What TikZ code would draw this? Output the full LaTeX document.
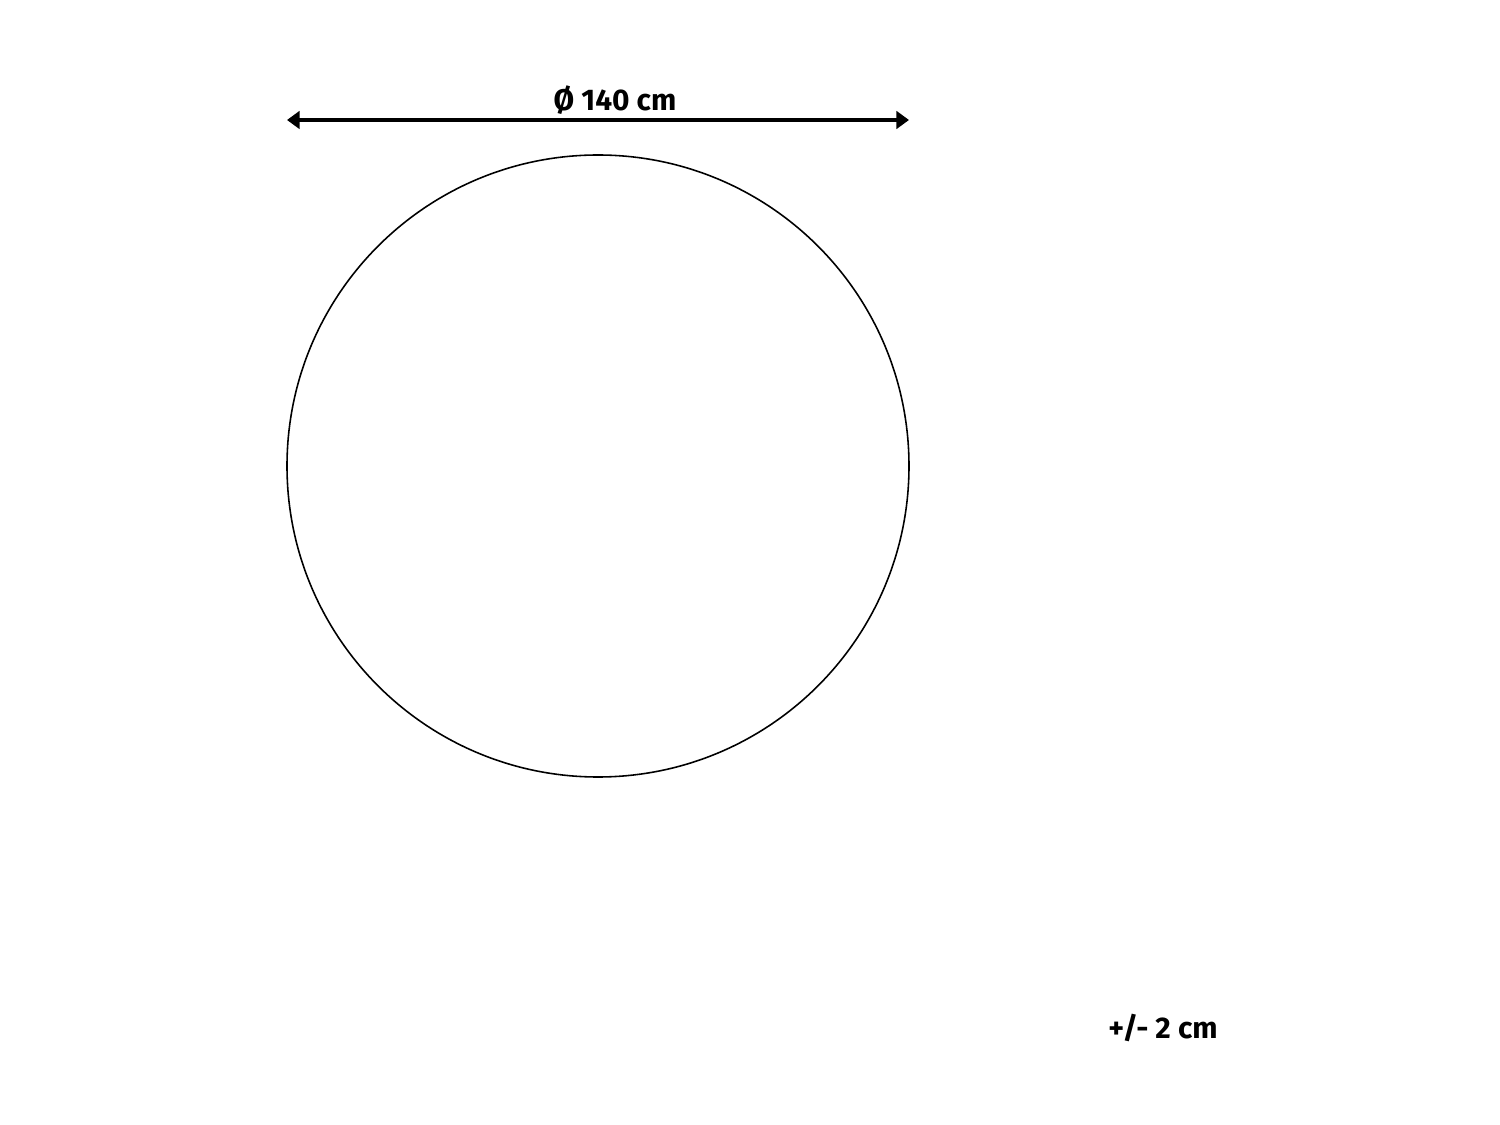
\documentclass[tikz,border=0pt]{standalone}
\usepackage{fontspec}
\setmainfont{Fira Sans}
\usetikzlibrary{arrows.meta}

\begin{document}
\begin{tikzpicture}
            \useasboundingbox (0,0) rectangle (15,11.25);
            \tikzset{dimlabel/.style={font=\bfseries\fontsize{8.5}{10}\selectfont, inner sep=0pt}}

            % round rug outline
            \draw[line width=0.45pt] (5.98,6.59) circle (3.11);

            % diameter dimension
            \coordinate (left) at (2.87,10.05);
            \coordinate (right) at (9.09,10.05);
            \draw[line width=1.1pt, {Triangle[length=3.6pt, width=5pt]}-{Triangle[length=3.6pt, width=5pt]}] (left) -- (right);
            \node[dimlabel] (diam) at (6.15,10.25) {Ø 140 cm};

            % tolerance
            \node[dimlabel] (tol) at (11.63,0.97) {+/- 2 cm};
        \end{tikzpicture}
\end{document}
